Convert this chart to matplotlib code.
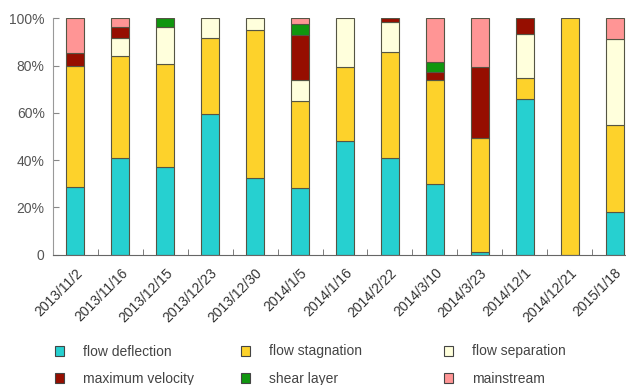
import numpy as np
import matplotlib
matplotlib.use('Agg')
import matplotlib.pyplot as plt
from matplotlib.patches import Patch

plt.rcParams['font.family'] = ['Liberation Sans', 'DejaVu Sans']

# dates of the surveys
dates = ['2013/11/2', '2013/11/16', '2013/12/15', '2013/12/23', '2013/12/30',
         '2014/1/5', '2014/1/16', '2014/2/22', '2014/3/10', '2014/3/23',
         '2014/12/1', '2014/12/21', '2015/1/18']

# share of each flow type (%)
deflection = [28.6, 41.0, 37.3, 59.6, 32.4, 28.2, 48.2, 41.0, 30.0, 1.0, 65.8, 0, 18.2]
stagnation = [51.4, 43.1, 43.3, 31.9, 62.7, 36.7, 31.1, 44.6, 43.7, 48.2, 8.8, 100, 36.6]
separation = [0, 7.6, 15.6, 8.5, 4.9, 8.9, 20.7, 12.9, 0, 0, 18.8, 0, 36.3]
max_velocity = [5.5, 4.5, 0, 0, 0, 19.0, 0, 1.5, 3.6, 30.0, 6.6, 0, 0]
shear = [0, 0, 3.8, 0, 0, 4.8, 0, 0, 4.4, 0, 0, 0, 0]
mainstream = [14.5, 3.8, 0, 0, 0, 2.4, 0, 0, 18.3, 20.8, 0, 0, 8.9]

names = ['flow deflection', 'flow stagnation', 'flow separation',
         'maximum velocity', 'shear layer', 'mainstream']
colors = ['#26D0D0', '#FDD22B', '#FFFFDC', '#960E00', '#10960F', '#FF9595']
series = [deflection, stagnation, separation, max_velocity, shear, mainstream]

fig = plt.figure(figsize=(6.26, 3.85), dpi=100)
ax = fig.add_axes([53/626, 130.3/385, 584/626, 236.4/385])

x = np.arange(len(dates))
bottom = np.zeros(len(dates))
for vals, c in zip(series, colors):
    vals = np.array(vals, dtype=float)
    lw = [0.8 if v > 0 else 0 for v in vals]
    ax.bar(x, vals, 0.4, bottom=bottom, color=c, edgecolor='#555544', linewidth=lw)
    bottom += vals

ax.set_xlim(-0.5, len(dates) - 0.5)
ax.set_ylim(0, 100)
ax.set_yticks([0, 20, 40, 60, 80, 100])
ax.set_yticklabels(['0', '20%', '40%', '60%', '80%', '100%'])
ax.set_xticks(x)
ax.set_xticklabels(dates, rotation=45, ha='right', rotation_mode='anchor')
ax.set_xticks(x[:-1] + 0.5, minor=True)
ax.tick_params(axis='x', which='major', length=0, pad=8, labelsize=10, labelcolor='#333333')
ax.tick_params(axis='x', which='minor', direction='in', length=4, color='#666666')
ax.tick_params(axis='y', direction='in', length=4, color='#888888', labelsize=10,
               labelcolor='#555555', pad=6)

for s in ['top', 'right']:
    ax.spines[s].set_visible(False)
ax.spines['left'].set_color('#999999')
ax.spines['bottom'].set_color('#666666')

# legend, two rows of three, placed by column
handles = [Patch(facecolor=c, edgecolor='#444444', linewidth=0.8) for c in colors]
col_x = [42/626, 228/626, 431/626]
for i in range(3):
    fig.legend([handles[i], handles[i + 3]], [names[i], names[i + 3]],
               loc='upper left', bbox_to_anchor=(col_x[i], 53/385),
               frameon=False, fontsize=10, handlelength=0.7, handleheight=0.7,
               handletextpad=1.35, labelspacing=0.95, labelcolor='#444444')

fig.savefig('out.png', dpi=100)
